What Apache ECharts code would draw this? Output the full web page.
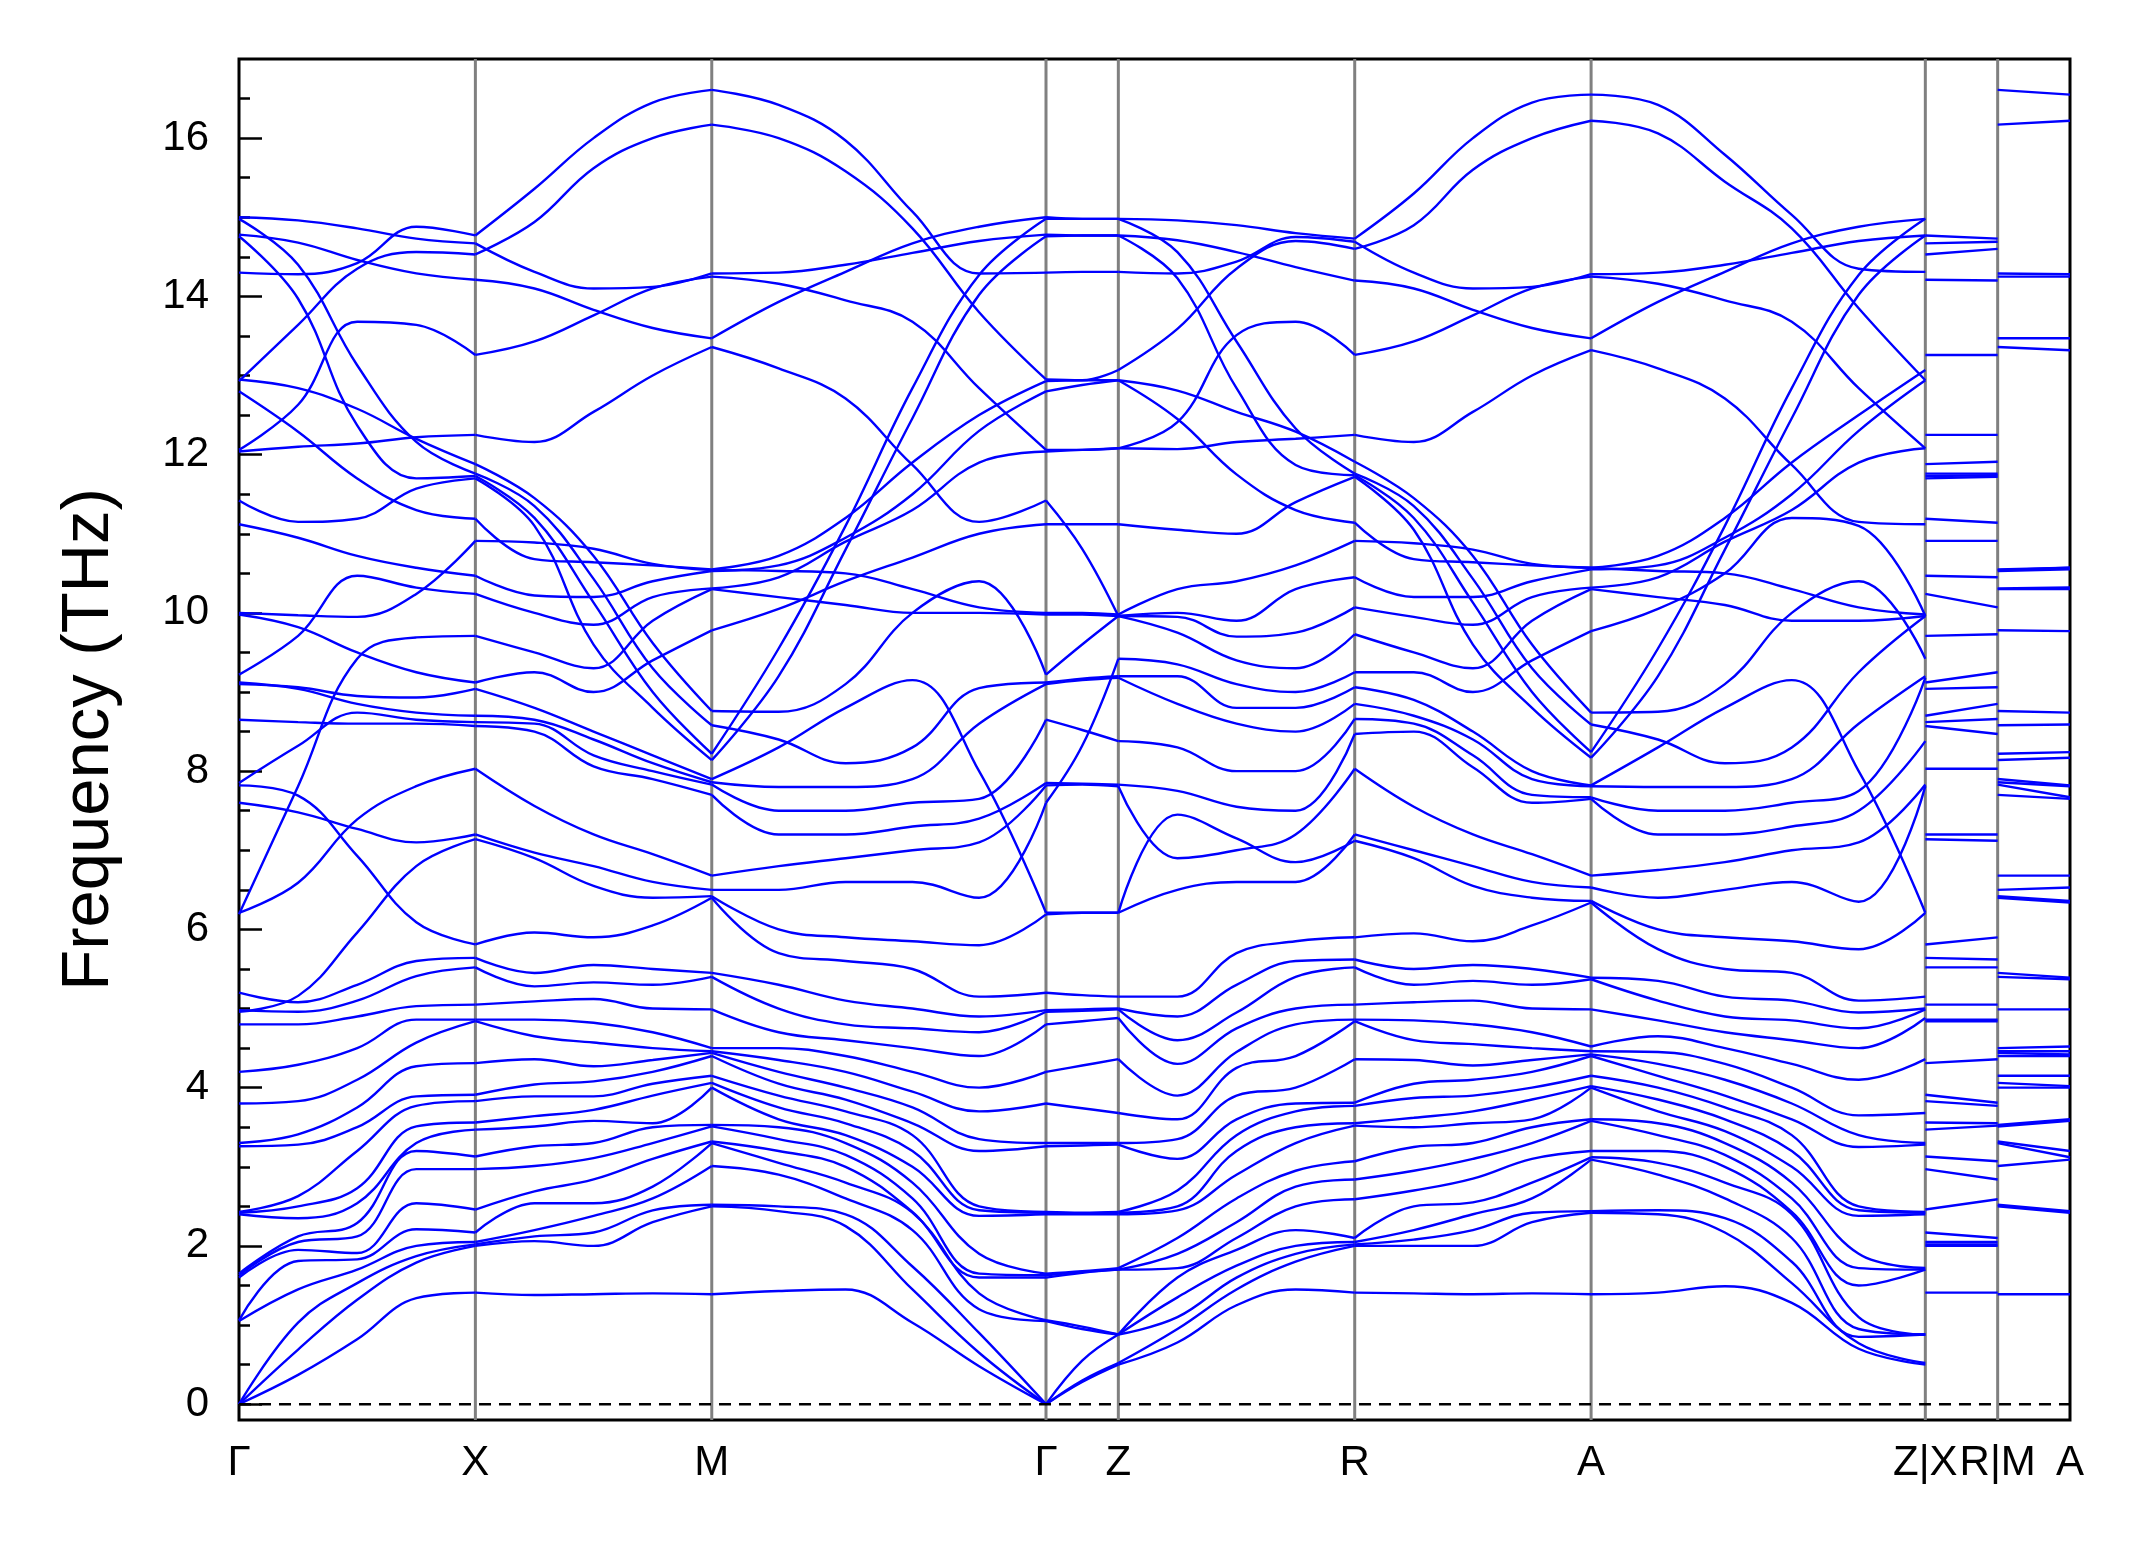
<!DOCTYPE html>
<html><head><meta charset="utf-8">
<script src="https://cdn.jsdelivr.net/npm/echarts@6/dist/echarts.min.js"></script>
<style>html,body{margin:0;padding:0;background:#fff}#c{width:2145px;height:1549px}</style>
</head><body><div id="c"></div>
<script>
// ---- axis / path definitions (k distance in units of |Γ-X|) ----
const tickPos = [0,1,2,3.414,3.72,4.72,5.72,7.134,7.44,7.746];
const tickLabels = ['Γ','X','M','Γ','Z','R','A','Z|X','R|M','A'];
const majorTicks = [0,2,4,6,8,10,12,14,16];
const minorTicks = [0,0.5,1,1.5,2,2.5,3,3.5,4,4.5,5,5.5,6,6.5,7,7.5,8,8.5,9,9.5,10,10.5,11,11.5,12,12.5,13,13.5,14,14.5,15,15.5,16,16.5];

const posGX = [0,0.25,0.5,0.75,1];
const posXM = [1,1.25,1.5,1.75,2];
const posMG = [2,2.283,2.566,2.849,3.131,3.414];
const posGZ = [3.414,3.567,3.72];
const posZR = [3.72,3.97,4.22,4.47,4.72];
const posRA = [4.72,4.97,5.22,5.47,5.72];
const posAZ = [5.72,6.003,6.286,6.569,6.852,7.134];
const posXR = [7.134,7.44];
const posMA = [7.44,7.746];

// ---- full frequency sets (THz) at X, R, M, A ----
const fX = [1.41,2.0,2.02,2.05,2.17,2.46,2.97,3.13,3.47,3.56,3.83,3.91,4.31,4.84,4.86,5.05,5.52,5.64,5.81,7.14,7.2,8.03,8.57,8.62,8.7,9.04,9.12,9.71,10.24,10.47,10.91,11.19,11.7,11.73,11.76,11.88,12.25,13.26,14.21,14.53,14.67,14.77];
const fR = [1.41,2.0,2.02,2.05,2.1,2.59,2.84,3.07,3.52,3.55,3.77,3.81,4.36,4.84,4.86,5.05,5.52,5.62,5.9,7.12,7.2,8.03,8.47,8.66,8.85,9.06,9.25,9.73,10.07,10.45,10.91,11.14,11.72,11.74,11.76,11.91,12.25,13.26,14.2,14.6,14.69,14.73];
const fM = [1.39,2.5,2.52,3.01,3.3,3.32,3.51,3.53,4.0,4.06,4.15,4.4,4.44,4.46,4.5,4.99,5.4,5.45,6.4,6.42,6.5,6.68,7.7,7.83,7.86,7.9,8.14,8.22,8.58,8.76,9.78,10.3,10.31,10.53,10.54,10.55,13.36,13.47,14.25,14.29,16.17,16.61];
const fA = [1.39,2.42,2.44,3.09,3.12,3.2,3.58,3.6,4.0,4.02,4.15,4.4,4.42,4.46,4.52,4.99,5.37,5.39,6.34,6.36,6.53,6.68,7.65,7.67,7.81,7.82,8.17,8.24,8.59,8.74,9.77,10.3,10.32,10.55,10.57,10.57,13.32,13.47,14.25,14.28,16.22,16.55];

// ---- Γ–X : individually traced bands + remaining low bands (sorted) ----
const bandsGX = [
  [15.0,14.96,14.86,14.73,14.67],[14.98,14.4,13.13,12.16,11.76],[14.78,14.68,14.46,14.29,14.21],
  [14.76,13.97,12.37,11.7,11.73],[14.3,14.28,14.42,14.88,14.77],[12.95,12.84,12.58,12.2,11.88],
  [12.93,13.64,14.35,14.56,14.53],[12.8,12.29,11.7,11.3,11.19],[12.06,12.63,13.68,13.64,13.26],
  [12.04,12.1,12.14,12.22,12.25],[11.42,11.15,11.19,11.57,11.7],[11.12,10.95,10.72,10.57,10.47],
  [10.0,9.97,9.95,10.24,10.91],[9.98,9.82,9.5,9.25,9.12],[9.22,9.71,10.47,10.32,10.24],
  [9.1,9.06,8.95,8.93,9.04],[9.12,9.04,8.85,8.74,8.7],[8.65,8.62,8.6,8.6,8.57],
  [7.85,8.32,8.74,8.65,8.62],[6.19,7.81,9.42,9.69,9.71],[7.82,7.69,6.93,6.09,5.81],
  [7.6,7.48,7.27,7.1,7.2],[6.21,6.59,7.39,7.81,8.03],[4.96,5.16,5.96,6.8,7.14]
];
const lowGX = [
  [0,0,0,1.05,1.06,1.6,1.63,1.65,2.4,2.42,2.43,3.26,3.3,3.8,4.2,4.8,4.98,5.2],
  [0.37,0.69,1.03,1.45,1.81,1.95,2.05,2.12,2.35,2.5,2.63,3.28,3.41,3.83,4.29,4.8,4.96,5.08],
  [0.82,1.32,1.53,1.7,1.83,1.91,2.12,2.29,2.54,2.73,3.2,3.5,3.75,4.1,4.5,4.9,5.1,5.3],
  [1.34,1.79,1.87,2.0,2.21,2.54,2.97,3.2,3.3,3.51,3.77,3.89,4.27,4.57,4.86,5.03,5.41,5.6],
  [1.41,2.0,2.02,2.05,2.17,2.46,2.97,3.13,3.47,3.56,3.83,3.91,4.31,4.84,4.86,5.05,5.52,5.64]
];

// ---- X–M ----
const bandsXM = [
  [14.77,15.36,16.0,16.45,16.61],[14.53,14.94,15.62,16.0,16.17],[14.67,14.31,14.1,14.12,14.29],
  [14.21,14.1,13.83,13.6,13.47],[13.26,13.43,13.76,14.1,14.25],[12.25,12.16,12.54,13.0,13.36],
  [11.88,11.45,10.72,9.62,8.76],[11.76,11.35,10.43,9.3,8.58],[11.73,11.2,10.13,9.0,8.22],
  [11.7,11.1,9.6,8.8,8.14],[11.19,10.68,10.64,10.6,10.55],[10.91,10.89,10.81,10.62,10.54]
];
const lowXM = [
  [1.41,2.0,2.02,2.05,2.17,2.46,2.97,3.13,3.47,3.56,3.83,3.91,4.31,4.84,4.86,5.05,5.52,5.64,5.81,7.14,7.2,8.03,8.57,8.62,8.7,9.04,9.12,9.71,10.24,10.47],
  [1.38,2.06,2.12,2.2,2.54,2.69,3.01,3.26,3.51,3.64,3.89,4.04,4.36,4.65,4.86,5.09,5.28,5.45,5.96,6.9,6.97,7.56,8.5,8.6,8.65,8.8,9.25,9.5,10.0,10.22],
  [1.39,2.0,2.17,2.38,2.54,2.84,3.11,3.3,3.58,3.72,3.89,4.08,4.27,4.57,4.82,5.12,5.33,5.55,5.9,6.55,6.8,7.2,8.06,8.2,8.4,8.5,9.0,9.3,9.85,10.2],
  [1.4,2.3,2.45,2.6,2.75,3.1,3.3,3.5,3.55,3.9,4.05,4.2,4.35,4.5,4.7,5.0,5.3,5.5,6.05,6.4,6.6,6.95,7.9,8.0,8.1,8.2,9.4,9.9,10.2,10.4],
  [1.39,2.5,2.52,3.01,3.3,3.32,3.51,3.53,4.0,4.06,4.15,4.4,4.44,4.46,4.5,4.99,5.4,5.45,6.4,6.42,6.5,6.68,7.7,7.83,7.86,7.9,9.78,10.3,10.31,10.53]
];

// ---- M–Γ ----
const bandsMG = [
  [16.61,16.42,15.97,15.07,14.29,14.3],[16.17,16.0,15.58,14.86,13.8,12.95],[13.47,13.93,14.31,14.67,14.88,15.0],
  [14.29,14.3,14.4,14.55,14.7,14.78],[14.25,14.16,13.95,13.68,12.84,12.06],[13.36,13.09,12.71,11.87,11.15,11.42],
  [8.22,9.55,11.1,12.84,14.27,14.98],[8.14,9.2,10.8,12.46,14.02,14.76],[10.55,10.72,11.2,11.9,12.5,12.93],
  [10.53,10.6,10.95,11.5,12.3,12.8],[10.31,10.45,10.9,11.3,11.9,12.04],[10.54,10.53,10.5,10.3,10.07,10.0],
  [9.78,10.05,10.4,10.7,11.0,11.12],[7.9,8.3,8.8,9.15,8.0,6.21],[8.76,8.75,9.1,10.0,10.4,9.22]
];
const lowMG = [
  [1.39,2.5,2.52,3.01,3.3,3.32,3.51,3.53,4.0,4.06,4.15,4.4,4.44,4.46,4.5,4.99,5.4,5.45,6.4,6.42,6.5,6.68,7.7,7.83,7.86,8.58,10.3],
  [1.43,2.44,2.5,2.9,3.05,3.2,3.35,3.5,3.6,3.75,3.9,4.05,4.2,4.35,4.5,4.7,5.0,5.3,5.7,6.0,6.5,6.8,7.2,7.5,7.8,8.4,10.2],
  [1.45,2.25,2.4,2.6,2.8,3.0,3.15,3.3,3.4,3.55,3.7,3.85,4.0,4.2,4.4,4.6,4.8,5.1,5.6,5.9,6.6,6.9,7.2,7.5,7.8,8.1,10.1],
  [1.03,1.45,1.74,2.2,2.42,2.43,2.6,2.8,3.0,3.2,3.4,3.55,3.75,3.95,4.2,4.5,4.75,5.0,5.5,5.85,6.6,7.0,7.3,7.6,7.9,8.3,10.0],
  [0.48,0.65,0.9,1.2,1.4,1.6,1.65,1.9,2.38,2.45,2.5,3.2,3.35,3.7,4.0,4.4,4.7,4.9,5.15,5.8,6.4,7.1,7.4,7.65,8.6,9.05,10.0],
  [0,0,0,1.05,1.06,1.6,1.63,1.65,2.4,2.42,2.43,3.26,3.3,3.8,4.2,4.8,4.96,4.98,5.2,6.19,7.6,7.82,7.85,8.65,9.1,9.12,9.98]
];

// ---- Γ–Z ----
const bandsGZ = [[11.42,10.81,9.96],[7.6,8.32,9.42]];
const lowGZ = [
  [0,0,0,1.05,1.06,1.6,1.63,1.65,2.4,2.42,2.43,3.26,3.3,3.8,4.2,4.8,4.96,4.98,5.2,6.19,6.21,7.82,7.85,8.65,9.1,9.12,9.22,9.98,10.0,11.12,12.04,12.06,12.8,12.93,12.95,14.3,14.76,14.78,14.98,15.0],
  [0.28,0.3,0.55,0.95,0.98,1.66,1.67,1.68,2.4,2.41,2.42,3.27,3.3,3.74,4.28,4.84,4.97,4.99,5.17,6.21,6.21,7.83,7.84,8.52,9.15,9.17,9.6,9.98,10.0,11.12,12.06,12.06,12.88,12.94,12.94,14.31,14.77,14.77,14.98,14.98],
  [0.5,0.52,0.88,0.88,0.88,1.7,1.7,1.72,2.4,2.42,2.43,3.28,3.3,3.68,4.36,4.88,4.99,5.0,5.15,6.21,6.21,7.81,7.83,8.38,9.18,9.2,9.96,9.96,9.98,11.12,12.08,12.08,12.94,12.94,13.07,14.31,14.77,14.77,14.98,14.98]
];

// ---- Z–R ----
const bandsZR = [
  [14.98,14.96,14.9,14.8,14.73],[14.98,14.56,13.43,12.33,11.76],[14.77,14.71,14.56,14.37,14.2],
  [14.77,14.23,12.84,11.87,11.74],[14.31,14.29,14.44,14.75,14.69],[12.94,12.81,12.54,12.29,11.91],
  [13.07,13.59,14.35,14.7,14.6],[12.94,12.45,11.75,11.3,11.14],[12.08,12.41,13.51,13.68,13.26],
  [12.08,12.07,12.16,12.2,12.25],[11.12,11.05,11.0,11.4,11.72],[6.21,7.45,7.15,6.85,7.12]
];
const lowZR = [
  [0.5,0.52,0.88,0.88,0.88,1.7,1.7,1.72,2.4,2.42,2.43,3.28,3.3,3.68,4.36,4.88,4.99,5.0,5.15,6.21,7.81,7.83,8.38,9.18,9.2,9.42,9.96,9.96,9.96,9.98],
  [0.78,0.95,1.1,1.35,1.6,1.72,1.9,2.1,2.45,2.5,2.7,3.1,3.35,3.6,3.9,4.3,4.6,4.9,5.15,6.5,6.9,7.75,8.3,8.85,9.2,9.35,9.75,9.95,10.0,10.3],
  [1.25,1.45,1.6,1.75,1.95,2.1,2.3,2.6,2.9,3.2,3.4,3.6,3.9,4.25,4.45,4.75,4.95,5.3,5.7,6.6,7.0,7.55,8.0,8.6,8.8,9.1,9.4,9.7,9.9,10.4],
  [1.45,1.8,1.9,2.0,2.2,2.5,2.75,2.95,3.3,3.5,3.7,3.8,4.0,4.4,4.8,5.0,5.4,5.6,5.85,6.6,7.2,7.5,8.0,8.5,8.8,9.0,9.3,9.75,10.3,10.6],
  [1.41,2.0,2.02,2.05,2.1,2.59,2.84,3.07,3.52,3.55,3.77,3.81,4.36,4.84,4.86,5.05,5.52,5.62,5.9,7.2,8.03,8.47,8.66,8.85,9.06,9.25,9.73,10.07,10.45,10.91]
];

// ---- R–A ----
const bandsRA = [
  [14.73,15.3,16.0,16.45,16.55],[14.6,14.9,15.6,16.0,16.22],[14.69,14.3,14.1,14.12,14.28],
  [14.2,14.1,13.83,13.6,13.47],[13.26,13.43,13.76,14.1,14.25],[12.25,12.16,12.54,13.0,13.32],
  [11.91,11.45,10.72,9.6,8.74],[11.76,11.35,10.43,9.3,8.59],[11.74,11.2,10.13,9.0,8.24],
  [11.72,11.05,9.6,8.8,8.17],[11.14,10.68,10.64,10.6,10.57],[10.91,10.88,10.8,10.62,10.57]
];
const lowRA = [
  [1.41,2.0,2.02,2.05,2.1,2.59,2.84,3.07,3.52,3.55,3.77,3.81,4.36,4.84,4.86,5.05,5.52,5.62,5.9,7.12,7.2,8.03,8.47,8.66,8.85,9.06,9.25,9.73,10.07,10.45],
  [1.4,2.0,2.08,2.2,2.5,2.7,2.95,3.25,3.5,3.62,3.87,4.05,4.35,4.6,4.85,5.08,5.3,5.5,5.95,6.9,7.0,7.55,8.5,8.6,8.7,8.9,9.25,9.5,9.95,10.2],
  [1.39,2.0,2.2,2.4,2.55,2.85,3.1,3.3,3.55,3.7,3.9,4.1,4.28,4.55,4.8,5.1,5.35,5.55,5.85,6.55,6.8,7.2,8.05,8.2,8.4,8.5,9.0,9.3,9.85,10.2],
  [1.4,2.3,2.42,2.6,2.8,3.1,3.3,3.5,3.6,3.85,4.0,4.2,4.35,4.5,4.7,5.0,5.3,5.5,6.05,6.4,6.6,6.95,7.6,7.7,7.9,8.0,9.4,9.9,10.2,10.4],
  [1.39,2.42,2.44,3.09,3.12,3.2,3.58,3.6,4.0,4.02,4.15,4.4,4.42,4.46,4.52,4.99,5.37,5.39,6.34,6.36,6.53,6.68,7.65,7.67,7.81,7.82,9.77,10.3,10.32,10.55]
];

// ---- A–Z ----
const bandsAZ = [
  [16.55,16.42,15.79,15.03,14.35,14.31],[16.22,16.06,15.45,14.86,13.85,12.94],[13.47,13.93,14.31,14.67,14.88,14.98],
  [14.28,14.3,14.4,14.55,14.7,14.77],[14.25,14.16,13.95,13.68,12.84,12.08],[13.32,13.09,12.71,11.87,11.15,11.12],
  [8.24,9.55,11.1,12.84,14.27,14.98],[8.17,9.2,10.8,12.46,14.02,14.77],[10.57,10.72,11.2,11.9,12.5,13.07],
  [10.55,10.6,10.95,11.5,12.3,12.94],[10.32,10.45,10.9,11.3,11.9,12.08],[10.57,10.53,10.5,10.3,10.07,9.98],
  [9.77,10.05,10.5,11.2,11.1,9.96],[7.82,8.3,8.8,9.15,8.0,6.21],[8.74,8.75,9.1,10.0,10.4,9.42]
];
const lowAZ = [
  [1.39,2.42,2.44,3.09,3.12,3.2,3.58,3.6,4.0,4.02,4.15,4.4,4.42,4.46,4.52,4.99,5.37,5.39,6.34,6.36,6.53,6.68,7.65,7.67,7.81,8.59,10.3],
  [1.41,2.4,2.45,2.9,3.05,3.2,3.4,3.55,3.7,3.85,4.0,4.15,4.3,4.45,4.65,4.85,5.1,5.35,5.75,6.0,6.4,6.75,7.2,7.5,7.8,8.4,10.2],
  [1.49,2.17,2.35,2.6,2.8,3.0,3.15,3.3,3.45,3.6,3.75,3.9,4.1,4.3,4.5,4.7,4.9,5.15,5.5,5.9,6.5,6.85,7.2,7.5,7.8,8.1,10.1],
  [1.28,1.53,1.8,2.1,2.4,2.43,2.6,2.8,3.0,3.2,3.4,3.6,3.8,4.0,4.3,4.6,4.85,5.1,5.45,5.85,6.6,7.0,7.3,7.6,7.9,8.3,9.9],
  [0.7,0.77,0.85,0.95,1.1,1.5,1.72,1.9,2.38,2.45,2.5,3.25,3.4,3.65,4.1,4.5,4.75,4.95,5.1,5.75,6.35,7.1,7.5,7.75,8.6,9.25,9.9],
  [0.5,0.52,0.88,0.88,0.88,1.7,1.7,1.72,2.4,2.42,2.43,3.28,3.3,3.68,4.36,4.88,4.99,5.0,5.15,6.21,7.81,7.83,8.38,9.18,9.2,9.96,9.96]
];

// ---- flat side segments X–R and M–A ----
const lowXR = [fX, fR];
const lowMA = [fM, fA];

// ---------------- build series ----------------
const FONT = '"Liberation Sans", Arial, Helvetica, sans-serif';
const bandStyle = {color:'#0000ff', width:2.4};
const series = [];
tickPos.slice(1,-1).forEach(x => series.push({
  type:'line', data:[[x,-0.2],[x,17]], symbol:'none', silent:true, z:1,
  lineStyle:{color:'#808080', width:3}
}));
series.push({type:'line', data:[[0,0],[7.746,0]], symbol:'none', silent:true, z:3,
  lineStyle:{color:'#000', width:2.5, type:[12,8]}});

function line(data, smooth){
  return {type:'line', data, smooth, symbol:'none', silent:true, z:2, lineStyle:bandStyle};
}
function addSegment(pos, bands, lows, smooth){
  bands.forEach(b => {
    if (b.length !== pos.length) console.error('band length', b);
    series.push(line(pos.map((x,j)=>[x, b[j]]), smooth));
  });
  const n = lows[0].length;
  lows.forEach((c,j)=>{ if (c.length !== n) console.error('low column', j, c.length, 'expected', n); });
  for (let i=0;i<n;i++) series.push(line(pos.map((x,j)=>[x, lows[j][i]]), smooth));
}
addSegment(posGX, bandsGX, lowGX, 0.4);
addSegment(posXM, bandsXM, lowXM, 0.4);
addSegment(posMG, bandsMG, lowMG, 0.4);
addSegment(posGZ, bandsGZ, lowGZ, 0.4);
addSegment(posZR, bandsZR, lowZR, 0.4);
addSegment(posRA, bandsRA, lowRA, 0.4);
addSegment(posAZ, bandsAZ, lowAZ, 0.4);
addSegment(posXR, [], lowXR, false);
addSegment(posMA, [], lowMA, false);

const chart = echarts.init(document.getElementById('c'), null, {width:2145, height:1549});
chart.setOption({
  animation:false,
  backgroundColor:'#fff',
  grid:{left:239, right:75, top:59, bottom:129, show:true, borderColor:'#000', borderWidth:3, backgroundColor:'transparent'},
  xAxis:{type:'value', min:0, max:7.746,
    axisLine:{show:false}, axisTick:{show:false}, splitLine:{show:false},
    axisLabel:{customValues:tickPos, showMinLabel:true, showMaxLabel:true, hideOverlap:false,
      fontSize:42, color:'#000', margin:22, fontFamily:FONT,
      formatter:v=>{const k=tickPos.findIndex(p=>Math.abs(p-v)<1e-6); return k>=0?tickLabels[k]:'';}}},
  yAxis:[
    {type:'value', min:-0.2, max:17, position:'left',
      axisLine:{show:false}, splitLine:{show:false},
      axisTick:{show:true, inside:true, length:23, customValues:majorTicks, lineStyle:{color:'#000', width:2.5}},
      axisLabel:{customValues:majorTicks, fontSize:42, color:'#000', margin:30, fontFamily:FONT},
      name:'Frequency (THz)', nameLocation:'middle', nameGap:116, nameRotate:90,
      nameTextStyle:{fontSize:67, color:'#000', fontFamily:FONT}},
    {type:'value', min:-0.2, max:17, position:'left',
      axisLine:{show:false}, splitLine:{show:false}, axisLabel:{show:false},
      axisTick:{show:true, inside:true, length:11, customValues:minorTicks, lineStyle:{color:'#000', width:2.5}}}
  ],
  series
});
</script></body></html>
